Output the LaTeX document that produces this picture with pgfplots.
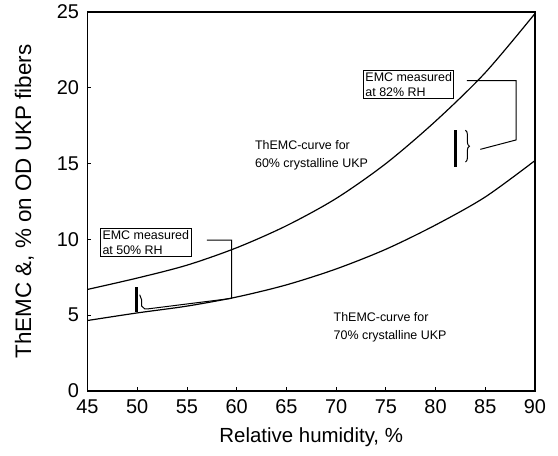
\documentclass[border=0pt]{standalone}
\usepackage{pgfplots}
\pgfplotsset{compat=1.18}
\usepackage{fontspec}
\setmainfont{Liberation Sans}
\usetikzlibrary{decorations.pathreplacing}
\begin{document}
\begin{tikzpicture}
\begin{axis}[
    scale only axis,
    width=447.5bp, height=379bp,
    xmin=45, xmax=90, ymin=0, ymax=25,
    xtick={45,50,...,90}, ytick={0,5,...,25},
    xtick pos=bottom, ytick pos=left,
    tick align=inside,
    major tick length=4bp,
    tick style={black, line width=0.8bp},
    axis line style={black, line width=1.4bp},
    /pgf/number format/assume math mode=true,
    ticklabel style={font=\fontsize{20}{22}\selectfont},
    yticklabel style={xshift=-5bp},
    xticklabel style={yshift=-5bp},
    xlabel={Relative humidity, \%},
    ylabel={ThEMC \&, \% on OD UKP fibers},
    xlabel style={font=\fontsize{20.5}{23}\selectfont, at={(axis description cs:0.5,-0.121)}, anchor=center},
    ylabel style={font=\fontsize{22.5}{25}\selectfont, at={(axis description cs:-0.141,0.5)}, anchor=center},
    clip=false,
]
% 60% crystalline UKP
\addplot[black, line width=1.2bp, smooth, mark=none] coordinates {
 (45,6.7) (50,7.45) (55,8.3) (60,9.45) (65,10.9) (70,12.7) (75,15.0) (80,17.8) (85,21.0) (90,24.9)};
% 70% crystalline UKP
\addplot[black, line width=1.2bp, smooth, mark=none] coordinates {
 (45,4.65) (50,5.15) (55,5.6) (60,6.2) (65,7.0) (70,8.05) (75,9.35) (80,10.95) (85,12.8) (90,15.2)};

% measured EMC at 82% RH
\addplot[black, line width=2.6bp, mark=none] coordinates {(82.0,14.8) (82.0,17.2)};
\addplot[black, line width=1bp, mark=none] coordinates {(83.15,20.47) (88.1,20.47) (88.1,16.56) (84.5,15.94)};
\draw[black, line width=1bp, decorate, decoration={brace, amplitude=4bp}]
  (axis cs:83.0,17.2) -- (axis cs:83.0,15.1);
% measured EMC at 50% RH
\addplot[black, line width=2.6bp, mark=none] coordinates {(49.95,5.23) (49.95,6.88)};
\addplot[black, line width=1bp, mark=none] coordinates {(50.25,6.35) (50.45,6.0) (50.45,5.6) (50.75,5.42) (51.1,5.42)};
\addplot[black, line width=1bp, mark=none] coordinates {(57.0,9.96) (59.5,9.96) (59.5,6.11) (51.1,5.42)};

\node[draw, line width=1bp, fill=white, align=left, anchor=north west, inner sep=2bp,
      font=\fontsize{12.5}{15}\selectfont]
  at (axis cs:72.7,21.17) {EMC measured\\at 82\% RH};
\node[draw, line width=1bp, fill=white, align=left, anchor=north west, inner sep=2bp,
      font=\fontsize{12.5}{15}\selectfont]
  at (axis cs:46.26,10.75) {EMC measured\\at 50\% RH};
\node[align=left, anchor=west, font=\fontsize{12.5}{18}\selectfont]
  at (axis cs:61.5,15.57) {ThEMC-curve for\\60\% crystalline UKP};
\node[align=left, anchor=west, font=\fontsize{12.5}{18}\selectfont]
  at (axis cs:69.4,4.19) {ThEMC-curve for\\70\% crystalline UKP};
\end{axis}
\pgfresetboundingbox
\path ([shift={(-87.5bp,-65bp)}]current axis.south west) rectangle ([shift={(23bp,12bp)}]current axis.north east);
\end{tikzpicture}
\end{document}
